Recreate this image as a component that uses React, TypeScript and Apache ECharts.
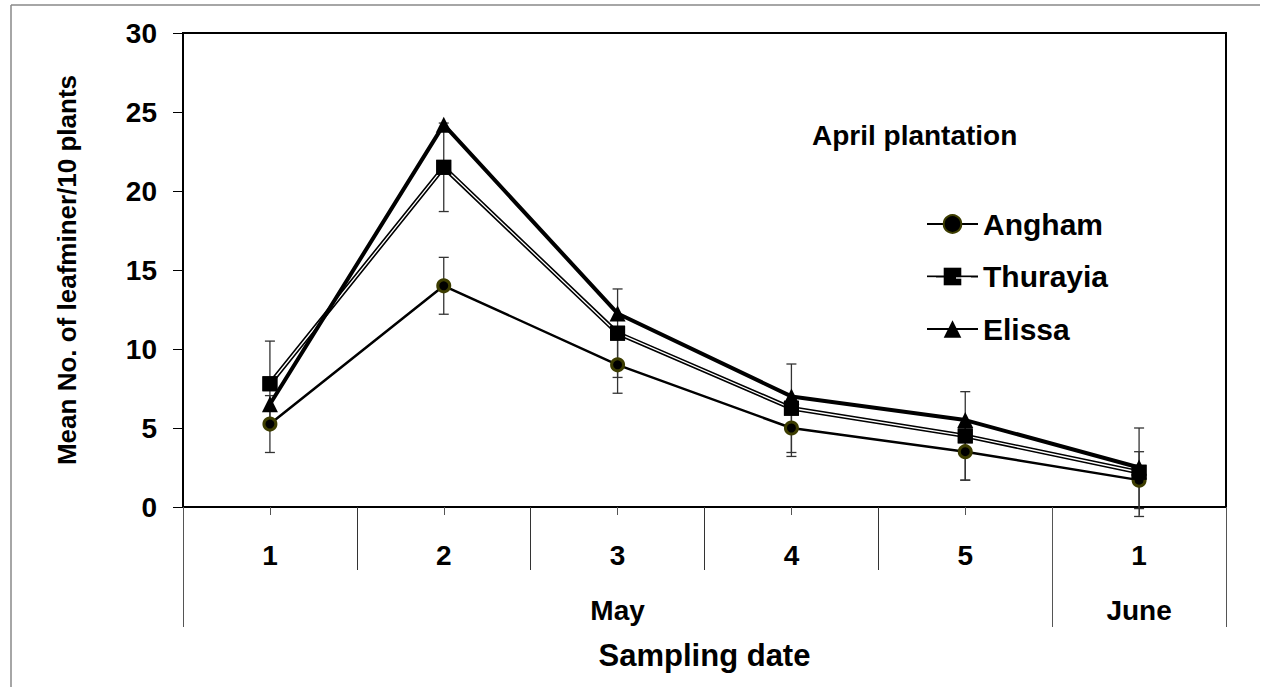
import React, { useEffect, useRef } from "react";
import * as echarts from "echarts";

const categories = ["May 1", "May 2", "May 3", "May 4", "May 5", "June 1"];
const dayLabels = ["1", "2", "3", "4", "5", "1"];
const months = ["May", "June"];
const monthSpans = [5, 1];

const angham = [5.25, 14.0, 9.0, 5.0, 3.5, 1.7];
const thurayia = [7.8, 21.5, 11.0, 6.25, 4.5, 2.2];
const elissa = [6.5, 24.2, 12.25, 7.0, 5.5, 2.5];
const anghamErr = [1.8, 1.8, 1.8, 1.8, 1.8, 1.8];
const thurayiaErr = [2.7, 2.8, 2.8, 2.8, 2.8, 2.8];

const yTicks = [0, 5, 10, 15, 20, 25, 30];

const FONT = "'Liberation Sans', Arial, sans-serif";

export default function App() {
  const ref = useRef<HTMLDivElement>(null);
  useEffect(() => {
    if (!ref.current) return;
    const chart = echarts.init(ref.current, undefined, { renderer: "svg" });

    const monthBounds: number[] = [0];
    const monthCenters: number[] = [];
    monthSpans.forEach((s, i) => {
      const start = monthBounds[i];
      monthBounds.push(start + s);
      monthCenters.push(start + s / 2);
    });

    const errData: number[][] = [];
    angham.forEach((v, i) => errData.push([i, v - anghamErr[i], v + anghamErr[i]]));
    thurayia.forEach((v, i) => errData.push([i, v - thurayiaErr[i], v + thurayiaErr[i]]));

    const option: any = {
      animation: false,
      backgroundColor: "#fff",
      grid: {
        left: 183,
        right: 38,
        top: 33,
        bottom: 180,
        show: true,
        borderColor: "#000",
        borderWidth: 2,
        backgroundColor: "transparent",
      },
      legend: {
        data: ["Angham", "Thurayia", "Elissa"],
        orient: "vertical",
        left: 921,
        top: 204,
        itemWidth: 51,
        itemHeight: 22,
        itemGap: 22.5,
        textStyle: { fontFamily: FONT, fontWeight: "bold", fontSize: 30, color: "#000" },
        selectedMode: false,
      },
      xAxis: [
        {
          type: "category",
          data: categories,
          position: "bottom",
          boundaryGap: true,
          axisLine: { show: true, onZero: false, lineStyle: { color: "#000", width: 2 } },
          axisTick: { show: true, interval: 0, length: 63, lineStyle: { color: "#333", width: 1 } },
          axisLabel: {
            interval: 0,
            margin: 34,
            formatter: (_v: string, i: number) => dayLabels[i],
            fontFamily: FONT,
            fontWeight: "bold",
            fontSize: 28,
            color: "#000",
          },
          splitLine: { show: false },
        },
        {
          type: "category",
          data: categories,
          position: "bottom",
          axisLine: { show: false, onZero: false },
          axisTick: { show: true, alignWithLabel: true, interval: 0, length: 8, lineStyle: { color: "#555", width: 1 } },
          axisLabel: { show: false },
          splitLine: { show: false },
        },
        {
          type: "value",
          min: 0,
          max: monthBounds[monthBounds.length - 1],
          position: "bottom",
          axisLine: { show: false, onZero: false },
          axisTick: { show: true, customValues: monthBounds, length: 120, lineStyle: { color: "#555", width: 1 } },
          axisLabel: {
            show: true,
            customValues: monthCenters,
            margin: 89,
            formatter: (v: number) => {
              const idx = monthCenters.findIndex((c) => Math.abs(c - v) < 1e-6);
              return idx >= 0 ? months[idx] : "";
            },
            fontFamily: FONT,
            fontWeight: "bold",
            fontSize: 28,
            color: "#000",
          },
          splitLine: { show: false },
          name: "Sampling date",
          nameLocation: "middle",
          nameGap: 133,
          nameTextStyle: { fontFamily: FONT, fontWeight: "bold", fontSize: 31, color: "#000" },
        },
      ],
      yAxis: {
        type: "value",
        min: 0,
        max: 30,
        interval: 5,
        axisLine: { show: true, lineStyle: { color: "#000", width: 2 } },
        axisTick: { show: true, length: 10, lineStyle: { color: "#000", width: 1 } },
        axisLabel: {
          margin: 26,
          formatter: (v: number) => (yTicks.includes(v) ? String(v) : ""),
          fontFamily: FONT,
          fontWeight: "bold",
          fontSize: 28,
          color: "#000",
        },
        splitLine: { show: false },
        name: "Mean No. of leafminer/10 plants",
        nameLocation: "middle",
        nameGap: 103,
        nameRotate: 90,
        nameTextStyle: { fontFamily: FONT, fontWeight: "bold", fontSize: 26, color: "#000" },
      },
      graphic: [
        {
          type: "text",
          left: 812,
          top: 121,
          style: { text: "April plantation", font: `bold 28px ${FONT}`, fill: "#000" },
        },
        { type: "line", shape: { x1: 11, y1: 5, x2: 1260, y2: 5 }, style: { stroke: "#888", lineWidth: 1.5 } },
        { type: "line", shape: { x1: 11, y1: 5, x2: 11, y2: 687 }, style: { stroke: "#888", lineWidth: 1.5 } },
        { type: "line", shape: { x1: 922, y1: 278, x2: 936, y2: 278 }, style: { stroke: "#fff", lineWidth: 1.3 }, z: 100 },
        { type: "line", shape: { x1: 956, y1: 278, x2: 971, y2: 278 }, style: { stroke: "#fff", lineWidth: 1.3 }, z: 100 },
      ],
      series: [
        {
          type: "custom",
          name: "err",
          xAxisIndex: 0,
          z: 1,
          clip: false,
          data: errData,
          renderItem: (_p: any, api: any) => {
            const x = api.value(0);
            const lo = api.coord([x, api.value(1)]);
            const hi = api.coord([x, api.value(2)]);
            const w = 5;
            const st = { stroke: "#333", lineWidth: 1.3 };
            return {
              type: "group",
              children: [
                { type: "line", shape: { x1: lo[0], y1: lo[1], x2: hi[0], y2: hi[1] }, style: st },
                { type: "line", shape: { x1: lo[0] - w, y1: lo[1], x2: lo[0] + w, y2: lo[1] }, style: st },
                { type: "line", shape: { x1: hi[0] - w, y1: hi[1], x2: hi[0] + w, y2: hi[1] }, style: st },
              ],
            };
          },
        },
        {
          type: "line",
          name: "Angham",
          data: angham,
          xAxisIndex: 0,
          z: 2,
          symbol: "circle",
          symbolSize: 12,
          lineStyle: { color: "#000", width: 2.5 },
          itemStyle: { color: "#000", borderColor: "#3d3d00", borderWidth: 3 },
        },
        {
          type: "line",
          name: "Thurayia",
          data: thurayia,
          xAxisIndex: 0,
          z: 3,
          symbol: "rect",
          symbolSize: 15,
          lineStyle: { color: "#000", width: 4.5 },
          itemStyle: { color: "#000" },
        },
        {
          type: "line",
          name: "ThurayiaCore",
          data: thurayia,
          xAxisIndex: 0,
          z: 3,
          symbol: "none",
          silent: true,
          lineStyle: { color: "#fff", width: 1.3 },
        },
        {
          type: "line",
          name: "ThurayiaMarks",
          data: thurayia,
          xAxisIndex: 0,
          z: 4,
          symbol: "rect",
          symbolSize: 15,
          lineStyle: { opacity: 0 },
          itemStyle: { color: "#000" },
        },
        {
          type: "line",
          name: "Elissa",
          data: elissa,
          xAxisIndex: 0,
          z: 5,
          symbol: "triangle",
          symbolSize: 16,
          lineStyle: { color: "#000", width: 4 },
          itemStyle: { color: "#000" },
        },
      ],
    };
    chart.setOption(option);
    return () => chart.dispose();
  }, []);
  return (
    <div
      ref={ref}
      style={{ position: "fixed", left: 0, top: 0, width: 1264, height: 687, background: "#fff" }}
    />
  );
}
